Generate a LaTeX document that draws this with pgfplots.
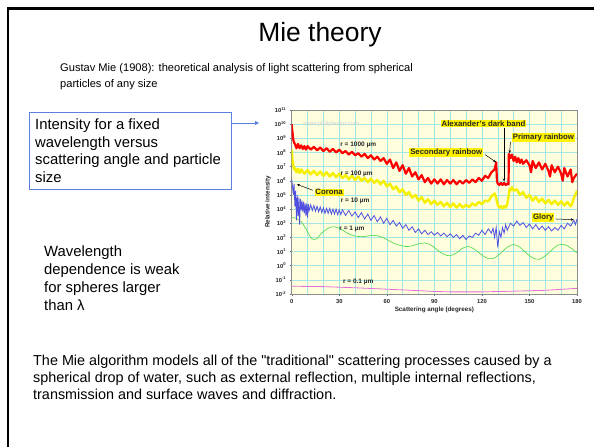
\documentclass[border=0pt]{standalone}
\usepackage{pgfplots}
\pgfplotsset{compat=1.18}
\usepackage{fontspec}
\setmainfont{Liberation Sans}
\usetikzlibrary{arrows.meta}

\definecolor{bgyellow}{RGB}{255,255,222}
\definecolor{gridcyan}{RGB}{165,228,228}
\definecolor{lineyellow}{RGB}{245,240,0}
\definecolor{lineblue}{RGB}{80,80,225}
\definecolor{linegreen}{RGB}{70,215,70}
\definecolor{linepink}{RGB}{230,110,220}
\definecolor{boxblue}{RGB}{90,130,220}

\begin{document}
\begin{tikzpicture}[x=1pt,y=1pt]
\path[use as bounding box, fill=white] (0pt,0pt) rectangle (594pt,447pt);
% slide frame
\draw[line width=2.6pt, black] (8pt,0pt) -- (8pt,438.5pt) -- (594pt,438.5pt);

% slide text
\node[anchor=base, inner sep=0pt, font=\fontsize{26.4}{30}\selectfont] at (320pt,405pt) {Mie theory};
\node[anchor=base west, inner sep=0pt, font=\fontsize{11.1}{14}\selectfont] at (60pt,375pt) {Gustav Mie (1908): theoretical analysis of light scattering from spherical};
\node[anchor=base west, inner sep=0pt, font=\fontsize{11.1}{14}\selectfont] at (60pt,359pt) {particles of any size};

\draw[boxblue, line width=0.8pt] (29pt,258pt) rectangle (231pt,335pt);
\begin{scope}[every node/.style={anchor=base west, inner sep=0pt, font=\fontsize{14.85}{17}\selectfont}]
\node at (35pt,317pt) {Intensity for a fixed};
\node at (35pt,299.5pt) {wavelength versus};
\node at (35pt,282pt) {scattering angle and particle};
\node at (35pt,264.5pt) {size};
\node at (44pt,190pt) {Wavelength};
\node at (44pt,172pt) {dependence is weak};
\node at (44pt,154pt) {for spheres larger};
\node at (44pt,136pt) {than λ};
\end{scope}
\draw[boxblue, line width=0.8pt, -{Triangle[length=4pt,width=4pt]}] (231pt,324pt) -- (259pt,324pt);

\begin{scope}[every node/.style={anchor=base west, inner sep=0pt, font=\fontsize{14.4}{17}\selectfont}]
\node at (33pt,81pt) {The Mie algorithm models all of the \textquotedbl traditional\textquotedbl{} scattering processes caused by a};
\node at (33pt,64pt) {spherical drop of water, such as external reflection, multiple internal reflections,};
\node at (33pt,47pt) {transmission and surface waves and diffraction.};
\end{scope}

\begin{axis}[
  at={(291.7pt,153pt)}, anchor=south west, scale only axis,
  width=285.3pt, height=184pt,
  xmin=0, xmax=180, ymin=-2, ymax=11,
  xtick={0,30,...,180}, minor xtick={10,20,...,170},
  ytick={-2,-1,...,11},
  grid=both,
  major grid style={gridcyan, line width=0.5pt},
  minor grid style={gridcyan, line width=0.5pt},
  axis background/.style={fill=bgyellow},
  axis line style={black!45, line width=0.6pt},
  tick style={black!60, line width=0.4pt},
  tick align=outside, major tick length=2pt, minor tick length=0pt,
  xtick pos=bottom, ytick pos=left,
  ticklabel style={font=\fontsize{5.8}{6}\selectfont\bfseries, text=black!85},
  /pgf/number format/assume math mode=true,
  yticklabel={10\textsuperscript{\pgfmathprintnumber{\tick}}},
  xlabel={Scattering angle (degrees)},
  ylabel={Relative intensity},
  label style={font=\fontsize{6.3}{7}\selectfont\bfseries, text=black!85},
  xlabel style={yshift=4pt},
  ylabel style={yshift=-3pt},
]
% r = 0.1 um
\addplot[linepink, line width=0.8pt] table {
0 -1.45
20 -1.48
40 -1.56
60 -1.66
80 -1.76
90 -1.82
100 -1.85
120 -1.85
140 -1.80
160 -1.74
180 -1.60
};
% r = 1 um
\addplot[linegreen, line width=0.6pt, smooth] table {
0 3.4
3 3.35
6 3.1
9 2.6
12 2.0
14 1.85
16 1.9
18 2.2
21 2.5
24 2.7
27 2.75
30 2.65
33 2.45
36 2.25
40 2.1
44 2.05
48 2.1
52 2.15
56 2.05
60 1.85
64 1.6
68 1.45
72 1.35
76 1.4
80 1.55
84 1.6
88 1.45
92 1.1
96 0.8
100 0.7
104 0.9
108 1.25
112 1.35
116 1.1
120 0.75
124 0.5
128 0.55
132 0.9
136 1.3
140 1.5
144 1.3
148 0.9
152 0.55
156 0.45
160 0.7
164 1.1
168 1.45
172 1.5
176 1.25
180 0.9
};
% r = 10 um
\addplot[lineblue, line width=0.8pt] table {
0 6.1
0.5 5.6
1 5.0
1.5 5.8
2 4.2
2.5 5.3
3 3.2
3.5 5.0
4 3.5
4.5 4.8
5 2.9
5.5 4.7
6 3.9
6.5 4.6
7 3.8
7.5 4.5
8 3.7
8.5 4.4
9 3.5
9.5 4.4
10 3.4
10.5 4.35
11 3.9
12 4.3
13 3.9
14 4.25
15 3.85
16 4.2
17 3.8
18 4.15
19 3.75
20 4.1
21 3.7
22 4.05
23 3.7
24 4.05
25 3.65
26 4.0
27 3.65
28 4.0
29 3.6
30 3.95
31 3.6
32 3.95
34 3.55
36 3.9
38 3.5
40 3.8
42 3.4
44 3.75
46 3.3
48 3.65
50 3.2
52 3.55
54 3.1
56 3.45
58 3.0
60 3.35
62 2.9
64 3.2
66 2.8
68 3.05
70 2.65
72 2.9
74 2.5
76 2.75
78 2.35
80 2.6
82 2.25
84 2.5
86 2.2
88 2.4
90 2.15
92 2.35
94 2.1
96 2.3
98 2.05
100 2.25
102 2.0
104 2.2
106 1.9
108 2.15
110 1.85
112 2.1
114 2.0
116 2.3
118 2.15
120 2.5
122 2.2
124 2.6
126 2.3
127 2.65
128 2.0
129 2.7
130 1.3
131 2.4
132 2.0
133 2.7
134 2.3
135 2.9
136 2.5
138 3.0
140 2.8
142 3.15
144 2.85
146 3.05
148 2.7
150 2.95
152 2.6
154 2.9
156 2.55
158 2.8
160 2.5
162 2.75
164 2.45
166 2.7
168 2.5
170 2.85
172 2.6
174 3.0
176 2.8
178 3.2
179 2.9
180 3.3
};
% r = 100 um
\addplot[lineyellow, line width=2.4pt, line join=round] table {
0 8.2
0.5 7.5
1 7.1
1.5 6.8
2 6.9
3 6.6
4 6.85
5 6.55
6 6.8
8 6.5
10 6.75
12 6.45
14 6.7
16 6.4
18 6.65
20 6.35
22 6.6
24 6.3
26 6.55
28 6.25
30 6.5
32 6.2
34 6.4
36 6.1
38 6.35
40 6.05
42 6.3
44 6.0
46 6.2
48 5.9
50 6.15
52 5.85
54 6.05
56 5.75
58 6.0
60 5.6
62 5.8
64 5.4
66 5.6
68 5.2
70 5.4
72 5.0
74 5.2
76 4.8
78 5.0
80 4.6
82 4.85
84 4.45
86 4.7
88 4.35
90 4.6
92 4.3
94 4.5
96 4.2
98 4.45
100 4.15
102 4.4
104 4.1
106 4.35
108 4.1
110 4.3
112 4.15
114 4.4
116 4.25
118 4.5
120 4.35
122 4.6
124 4.55
126 4.9
128 5.1
129 4.8
130 4.3
131 4.1
132 4.2
133 4.05
134 4.2
135 4.1
136 4.35
137 5.0
137.5 5.45
138 5.3
139 5.55
140 5.3
142 5.4
144 5.0
146 5.2
148 4.8
150 5.0
152 4.6
154 4.85
156 4.5
158 4.75
160 4.4
162 4.65
164 4.35
166 4.6
168 4.3
170 4.55
172 4.25
174 4.5
176 4.2
177 4.4
178 4.8
179 5.0
180 5.3
};
% r = 1000 um
\addplot[red, line width=2.2pt, line join=round] table {
0 10.0
0.5 9.4
1 8.9
1.5 8.7
2 8.6
3 8.3
4 8.6
5 8.3
6 8.5
7 8.25
8 8.45
9 8.2
10 8.45
12 8.2
14 8.4
16 8.15
18 8.35
20 8.1
22 8.3
24 8.05
26 8.25
28 8.0
30 8.2
32 7.95
34 8.1
36 7.85
38 8.05
40 7.8
42 7.95
44 7.7
46 7.9
48 7.6
50 7.8
52 7.5
54 7.7
56 7.4
58 7.6
60 7.2
62 7.5
64 6.9
66 7.3
68 6.7
70 7.1
72 6.5
74 6.9
76 6.3
78 6.6
80 6.1
82 6.4
84 5.9
86 6.2
88 5.8
90 6.1
92 5.8
94 6.1
96 5.75
98 6.05
100 5.8
102 6.05
104 5.75
106 6.0
108 5.8
110 6.05
112 5.85
114 6.1
116 5.9
118 6.2
120 6.0
122 6.35
124 6.2
126 6.6
128 6.8
129 7.3
129.5 6.0
130 5.8
131 5.7
132 5.85
133 5.7
134 5.85
135 5.7
136 5.8
136.8 5.75
137 7.9
138 7.6
139 7.85
140 7.4
141 7.7
142 7.3
143 7.6
144 7.25
145 7.5
146 7.2
148 7.45
150 7.1
151 6.6
152 7.4
154 6.9
156 7.3
158 6.8
160 7.2
162 6.7
163 6.3
164 7.1
166 6.6
168 7.0
170 6.5
171 6.0
172 6.9
174 6.3
176 6.8
177 5.9
178 6.2
180 6.5
};

% annotations
\node[text=black!18, font=\fontsize{6}{7}\selectfont] at (axis cs:25,10.0) {www.philiplaven.com};
\begin{scope}[every node/.style={font=\fontsize{6.5}{7}\selectfont\bfseries, text=black!85}]
\node at (axis cs:42,8.5) {r = 1000 µm};
\node at (axis cs:41,6.45) {r = 100 µm};
\node at (axis cs:40,4.57) {r = 10 µm};
\node at (axis cs:38,2.6) {r = 1 µm};
\node at (axis cs:42,-1.17) {r = 0.1 µm};
\end{scope}
\begin{scope}[every node/.style={fill=yellow, inner sep=0.8pt, font=\fontsize{7.8}{8}\selectfont\bfseries, text=black!85}]
\node at (axis cs:23.6,5.2) {Corona};
\node at (axis cs:121,10.06) {Alexander's dark band};
\node at (axis cs:97.5,8.0) {Secondary rainbow};
\node at (axis cs:158.8,9.05) {Primary rainbow};
\node at (axis cs:158.7,3.4) {Glory};
\end{scope}
\begin{scope}[-{Stealth[length=3pt,width=2.5pt]}, line width=0.5pt]
\draw (axis cs:13.3,5.33) -- (axis cs:3.2,5.75);
\draw (axis cs:134,9.75) -- (axis cs:134,5.95);
\draw (axis cs:122,7.85) -- (axis cs:129,7.3);
\draw (axis cs:138,8.75) -- (axis cs:137.5,7.95);
\draw (axis cs:166.5,3.3) -- (axis cs:178,3.25);
\end{scope}
\end{axis}
\end{tikzpicture}
\end{document}
